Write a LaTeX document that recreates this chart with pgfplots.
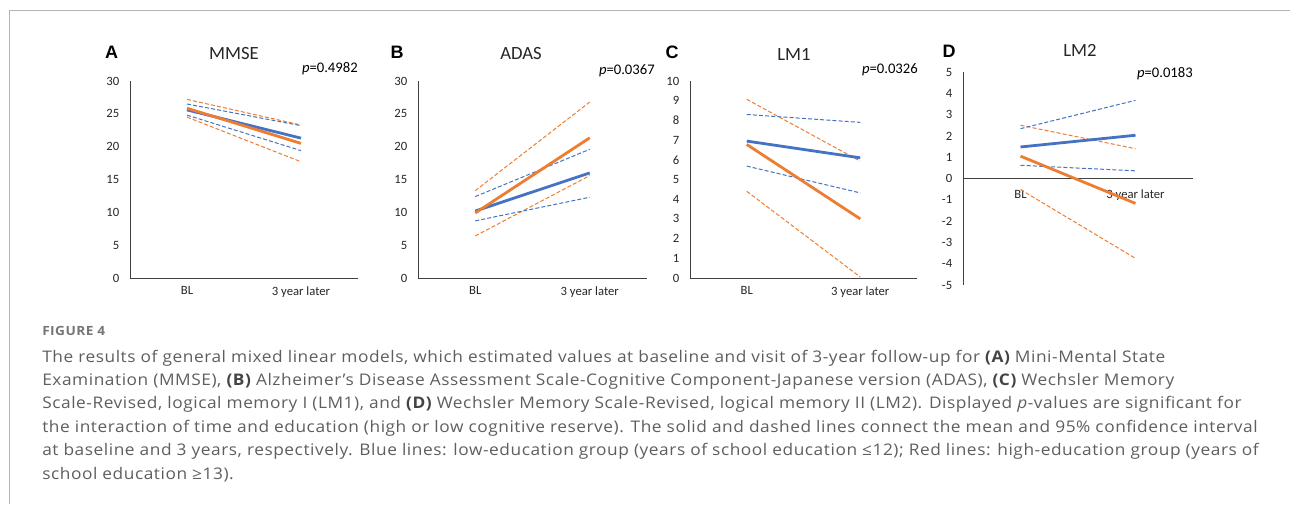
\documentclass[border=0pt]{standalone}
\usepackage{pgfplots}
\pgfplotsset{compat=1.18}
\usepackage{fontspec}
\setmainfont{Open Sans}[FakeStretch=1.08, LetterSpace=3.5]
\newfontfamily\calib{Carlito}
\newfontfamily\arialf{Liberation Sans}
\definecolor{eblue}{HTML}{4472C4}
\definecolor{eorange}{HTML}{ED7D31}
\definecolor{capgray}{HTML}{5E5E5E}
\definecolor{capdark}{HTML}{444444}
\definecolor{framegray}{HTML}{B4B4B4}
\newcommand{\pp}[2]{({#1*0.75pt},{(504-#2)*0.75pt})}
\pgfplotsset{
  panel/.style={
    scale only axis, xmin=0.5, xmax=2.5, enlargelimits=false,
    axis x line*=bottom, axis y line*=left,
    axis line style={black!75, line width=0.6pt},
    major tick length=0pt, tick style={draw=none},
    xtick={1,2}, xticklabels={BL,3 year later},
    ticklabel style={font=\calib\fontsize{9.5}{11}\selectfont, text=black!85},
    xticklabel style={font=\calib\fontsize{9.5}{11}\selectfont, yshift=-3pt},
    yticklabel style={xshift=-4.5pt},
    /pgf/number format/assume math mode=true,
    clip=false,
  },
  mean/.style={line width=2.1pt},
  ci/.style={line width=0.75pt, dash pattern=on 3pt off 1.6pt},
}
\newcommand{\capline}[2]{\node[anchor=base west, inner sep=0, text=capgray, font=\fontsize{12}{14}\selectfont] at \pp{42}{#1} {#2};}
\newcommand{\cb}[1]{\textcolor{capdark}{\bfseries #1}}
\begin{document}
\begin{tikzpicture}
\path[use as bounding box] (0,0) rectangle (967.5pt,378pt);
\draw[framegray, line width=0.7pt] \pp{9.5}{504} -- \pp{9.5}{10.5} -- \pp{1290}{10.5};

% Panel A
\begin{axis}[panel, at={(97.5pt,169.5pt)}, anchor=south west, width=171pt, height=147.75pt,
  ymin=0, ymax=30, ytick={0,5,...,30}]
\addplot[ci, eorange] coordinates {(1,27.2) (2,23.3)};
\addplot[ci, eorange] coordinates {(1,24.5) (2,17.7)};
\addplot[ci, eblue] coordinates {(1,26.5) (2,23.2)};
\addplot[ci, eblue] coordinates {(1,24.8) (2,19.4)};
\addplot[mean, eblue] coordinates {(1,25.6) (2,21.3)};
\addplot[mean, eorange] coordinates {(1,25.85) (2,20.5)};
\end{axis}
% Panel B
\begin{axis}[panel, at={(313.5pt,169.5pt)}, anchor=south west, width=171.75pt, height=147.75pt,
  ymin=0, ymax=30, ytick={0,5,...,30}]
\addplot[ci, eorange] coordinates {(1,13.3) (2,26.8)};
\addplot[ci, eorange] coordinates {(1,6.4) (2,15.6)};
\addplot[ci, eblue] coordinates {(1,12.4) (2,19.6)};
\addplot[ci, eblue] coordinates {(1,8.7) (2,12.3)};
\addplot[mean, eblue] coordinates {(1,10.2) (2,16.0)};
\addplot[mean, eorange] coordinates {(1,9.9) (2,21.35)};
\end{axis}
% Panel C
\begin{axis}[panel, at={(517.5pt,169.5pt)}, anchor=south west, width=170.25pt, height=147.75pt,
  ymin=0, ymax=10, ytick={0,1,...,10}]
\addplot[ci, eorange] coordinates {(1,9.07) (2,5.93)};
\addplot[ci, eorange] coordinates {(1,4.4) (2,0.05)};
\addplot[ci, eblue] coordinates {(1,8.3) (2,7.9)};
\addplot[ci, eblue] coordinates {(1,5.68) (2,4.32)};
\addplot[mean, eorange] coordinates {(1,6.78) (2,3.0)};
\addplot[mean, eblue] coordinates {(1,6.95) (2,6.1)};
\end{axis}
% Panel D
\begin{axis}[panel, at={(722.25pt,164.25pt)}, anchor=south west, width=172.5pt, height=159.75pt,
  ymin=-5, ymax=5, ytick={-5,-4,...,5}, axis x line*=middle,
  yticklabels={-5,-4,-3,-2,-1,0,1,2,3,4,5}, xticklabel style={yshift=-2pt}]
\addplot[ci, eorange] coordinates {(1,2.5) (2,1.4)};
\addplot[ci, eorange] coordinates {(1,-0.52) (2,-3.75)};
\addplot[ci, eblue] coordinates {(1,2.34) (2,3.67)};
\addplot[ci, eblue] coordinates {(1,0.62) (2,0.36)};
\addplot[mean, eblue] coordinates {(1,1.48) (2,2.03)};
\addplot[mean, eorange] coordinates {(1,1.05) (2,-1.17)};
\end{axis}

% titles and letters
\begin{scope}[every node/.style={inner sep=0}]
\node[font=\arialf\bfseries\fontsize{13.5}{15}\selectfont] at \pp{111.5}{52} {A};
\node[font=\arialf\bfseries\fontsize{13.5}{15}\selectfont] at \pp{397}{52} {B};
\node[font=\arialf\bfseries\fontsize{13.5}{15}\selectfont] at \pp{672}{52} {C};
\node[font=\arialf\bfseries\fontsize{13.5}{15}\selectfont] at \pp{949}{51} {D};
\node[font=\calib\fontsize{14}{16}\selectfont, text=black!85] at \pp{234}{54} {MMSE};
\node[font=\calib\fontsize{14}{16}\selectfont, text=black!85] at \pp{521}{54} {ADAS};
\node[font=\calib\fontsize{14}{16}\selectfont, text=black!85] at \pp{794}{54} {LM1};
\node[font=\calib\fontsize{14}{16}\selectfont, text=black!85] at \pp{1080}{50} {LM2};
\node[anchor=east, font=\calib\fontsize{11}{13}\selectfont] at \pp{358}{69} {\textit{p}=0.4982};
\node[anchor=east, font=\calib\fontsize{11}{13}\selectfont] at \pp{655}{71} {\textit{p}=0.0367};
\node[anchor=east, font=\calib\fontsize{11}{13}\selectfont] at \pp{918}{70} {\textit{p}=0.0326};
\node[anchor=east, font=\calib\fontsize{11}{13}\selectfont] at \pp{1193}{74} {\textit{p}=0.0183};
\end{scope}

% caption
\node[anchor=base west, inner sep=0, text=capgray!85, font=\bfseries\fontsize{9.5}{11}\selectfont] at \pp{42}{336} {FIGURE 4};
\capline{362}{The results of general mixed linear models, which estimated values at baseline and visit of 3-year follow-up for \cb{(A)} Mini-Mental State}
\capline{385.4}{Examination (MMSE), \cb{(B)} Alzheimer’s Disease Assessment Scale-Cognitive Component-Japanese version (ADAS), \cb{(C)} Wechsler Memory}
\capline{408.8}{Scale-Revised, logical memory I (LM1), and \cb{(D)} Wechsler Memory Scale-Revised, logical memory II (LM2). Displayed \textit{p}-values are significant for}
\capline{432.2}{the interaction of time and education (high or low cognitive reserve). The solid and dashed lines connect the mean and 95\% confidence interval}
\capline{455.6}{at baseline and 3 years, respectively. Blue lines: low-education group (years of school education ≤12); Red lines: high-education group (years of}
\capline{479}{school education ≥13).}
\end{tikzpicture}
\end{document}
